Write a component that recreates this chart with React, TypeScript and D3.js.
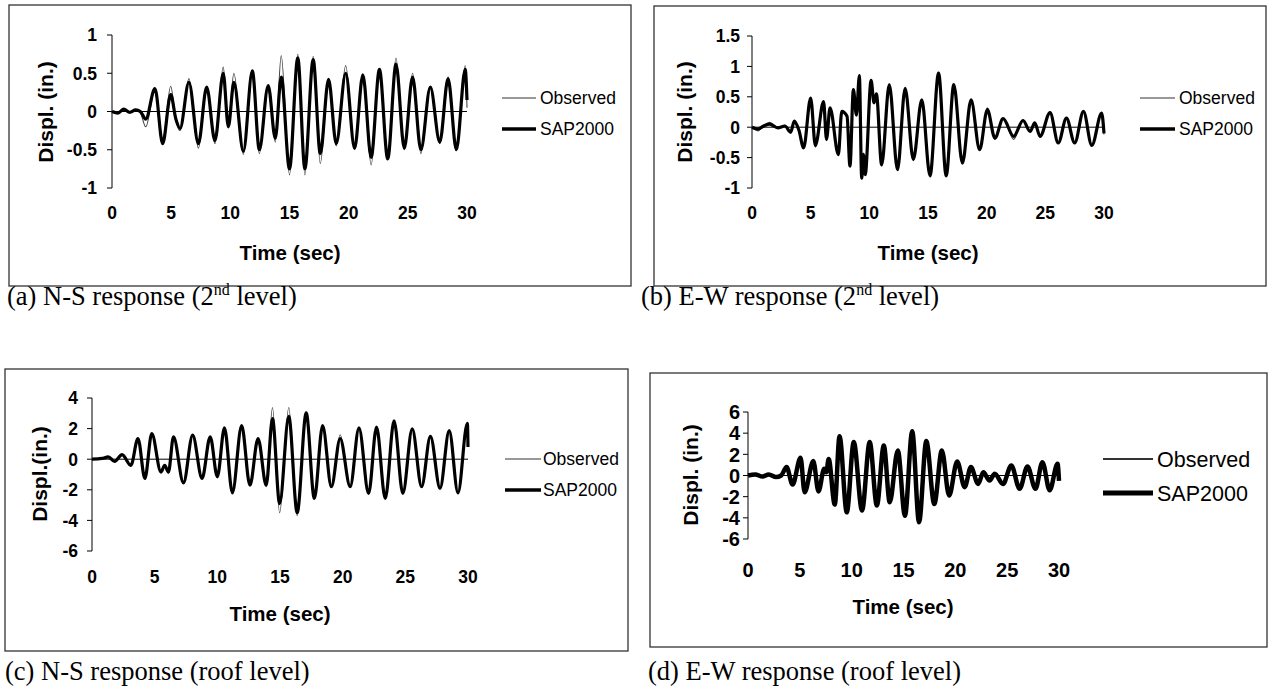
import React from "react";
import * as d3 from "d3";

// ---- Data: displacement response histories (peaks and troughs, inches vs. seconds) ----

const xTicks = [0, 5, 10, 15, 20, 25, 30];

// (a) N-S, 2nd level
const nsL2Time = [0, 0.5, 1.0, 1.5, 2.0, 2.4, 2.85, 3.63, 4.28, 4.96, 5.4, 5.75, 6.5, 7.3, 8.0, 8.7, 9.4, 9.83, 10.3, 11.1, 11.86, 12.45, 13.2, 13.8, 14.3, 15.0, 15.7, 16.3, 17.0, 17.6, 18.3, 18.95, 19.75, 20.5, 21.2, 21.9, 22.6, 23.3, 24.0, 24.7, 25.4, 26.1, 26.9, 27.7, 28.4, 29.1, 29.85, 30];
const nsL2Sap = [0, -0.02, 0.03, -0.01, 0.02, 0.0, -0.1, 0.3, -0.42, 0.22, -0.1, -0.22, 0.38, -0.42, 0.32, -0.38, 0.5, -0.2, 0.38, -0.52, 0.53, -0.5, 0.34, -0.35, 0.45, -0.75, 0.7, -0.75, 0.68, -0.55, 0.42, -0.42, 0.5, -0.48, 0.48, -0.6, 0.55, -0.62, 0.62, -0.48, 0.45, -0.5, 0.32, -0.4, 0.43, -0.5, 0.55, 0.15];
const nsL2Obs = [0, -0.02, 0.02, -0.02, 0.01, -0.02, -0.2, 0.28, -0.38, 0.33, -0.12, -0.25, 0.43, -0.48, 0.3, -0.42, 0.58, -0.15, 0.5, -0.56, 0.5, -0.55, 0.3, -0.4, 0.73, -0.83, 0.75, -0.83, 0.72, -0.68, 0.4, -0.45, 0.6, -0.5, 0.45, -0.7, 0.55, -0.6, 0.7, -0.5, 0.5, -0.55, 0.3, -0.42, 0.45, -0.5, 0.6, 0.05];
const nsL2Ticks = [-1, -0.5, 0, 0.5, 1];

// (b) E-W, 2nd level
const ewL2Time = [0, 0.5, 1.0, 1.5, 2.2, 2.8, 3.3, 3.6, 4.0, 4.4, 5.0, 5.4, 6.1, 6.35, 6.65, 7.36, 7.65, 8.1, 8.35, 8.64, 8.9, 9.15, 9.35, 9.5, 9.65, 10.15, 10.4, 10.6, 11.05, 11.7, 12.4, 13.05, 13.75, 14.47, 15.17, 15.9, 16.55, 17.2, 17.93, 18.67, 19.4, 20.06, 20.7, 21.4, 22.3, 23.1, 23.7, 24.1, 24.55, 25.4, 26.1, 26.8, 27.5, 28.25, 28.96, 29.8, 30];
const ewL2Sap = [0, -0.03, 0.02, 0.05, -0.01, 0.02, -0.08, 0.1, -0.05, -0.34, 0.48, -0.3, 0.42, -0.2, 0.32, -0.45, 0.26, 0.18, -0.64, 0.62, 0.2, 0.85, -0.84, -0.45, -0.78, 0.77, 0.4, 0.55, -0.62, 0.7, -0.7, 0.64, -0.53, 0.45, -0.8, 0.89, -0.8, 0.7, -0.59, 0.45, -0.37, 0.29, -0.18, 0.14, -0.15, 0.11, -0.07, 0.07, -0.15, 0.24, -0.26, 0.15, -0.26, 0.26, -0.3, 0.23, -0.1];
const ewL2Obs = [0, -0.06, 0.03, 0.08, 0.0, 0.03, -0.1, 0.08, -0.06, -0.3, 0.45, -0.33, 0.4, -0.22, 0.3, -0.42, 0.24, 0.2, -0.6, 0.58, 0.22, 0.8, -0.8, -0.42, -0.75, 0.74, 0.42, 0.52, -0.6, 0.68, -0.68, 0.6, -0.55, 0.42, -0.78, 0.85, -0.78, 0.68, -0.56, 0.45, -0.35, 0.32, -0.2, 0.14, -0.2, 0.12, -0.06, 0.08, -0.14, 0.22, -0.25, 0.16, -0.24, 0.25, -0.28, 0.22, -0.12];
const ewL2Ticks = [-1, -0.5, 0, 0.5, 1, 1.5];

// (c) N-S, roof level
const nsRoofTime = [0, 0.8, 1.3, 1.8, 2.4, 3.1, 3.67, 4.22, 4.77, 5.5, 5.8, 6.1, 6.5, 7.3, 8.03, 8.78, 9.43, 10.0, 10.57, 11.2, 11.94, 12.6, 13.25, 13.9, 14.4, 14.97, 15.7, 16.37, 17.09, 17.74, 18.4, 19.1, 19.8, 20.6, 21.3, 22.07, 22.7, 23.4, 24.1, 24.8, 25.55, 26.3, 27.0, 27.77, 28.5, 29.2, 29.95, 30];
const nsRoofSap = [0, 0.05, 0.15, -0.15, 0.3, -0.4, 1.35, -1.26, 1.68, -0.84, -0.4, -0.84, 1.46, -1.55, 1.57, -1.26, 1.46, -1.15, 2.05, -2.2, 2.2, -1.7, 1.35, -1.7, 2.66, -2.9, 2.8, -3.5, 3.03, -2.57, 2.2, -1.8, 1.35, -1.8, 2.05, -2.24, 2.1, -2.57, 2.5, -2.24, 1.98, -1.8, 1.5, -1.9, 1.87, -2.2, 2.35, 0.8];
const nsRoofObs = [0, 0.05, 0.12, -0.1, 0.25, -0.45, 1.2, -1.1, 1.6, -0.8, -0.5, -0.9, 1.4, -1.45, 1.5, -1.3, 1.4, -1.2, 1.9, -2.1, 2.1, -1.6, 1.3, -1.8, 3.38, -3.5, 3.38, -3.7, 2.9, -2.4, 2.1, -1.8, 1.6, -1.75, 2.0, -2.1, 2.0, -2.5, 2.4, -2.2, 1.95, -1.85, 1.4, -1.95, 1.8, -2.25, 2.3, 1.2];
const nsRoofTicks = [-6, -4, -2, 0, 2, 4];

// (d) E-W, roof level
const ewRoofTime = [0, 0.7, 1.4, 2.0, 2.7, 3.2, 3.72, 4.3, 5.07, 5.46, 6.3, 6.8, 7.35, 7.55, 7.78, 8.37, 8.83, 9.53, 10.2, 11.0, 11.74, 12.43, 13.1, 13.67, 14.45, 15.14, 15.84, 16.5, 17.2, 17.97, 18.7, 19.4, 20.18, 20.9, 21.5, 22.2, 22.7, 23.3, 23.8, 24.6, 25.4, 26.2, 26.96, 27.73, 28.4, 29.1, 29.86, 30];
const ewRoofSap = [0, 0.1, -0.1, 0.1, -0.15, 0.0, 0.8, -0.85, 1.67, -1.58, 1.36, -1.5, 0.63, 0.3, 1.55, -2.75, 3.7, -3.48, 3.16, -3.3, 3.16, -2.84, 2.84, -2.53, 2.37, -3.8, 4.17, -4.42, 3.25, -2.7, 2.37, -1.9, 1.33, -1.1, 0.8, -0.8, 0.3, -0.47, 0.16, -0.8, 0.95, -1.26, 0.85, -1.26, 1.26, -1.4, 1.1, -0.5];
const ewRoofObs = [0, 0.08, -0.12, 0.12, -0.18, 0.05, 0.75, -0.9, 1.6, -1.5, 1.3, -1.45, 0.6, 0.35, 1.5, -2.7, 3.6, -3.4, 3.1, -3.2, 3.1, -2.8, 2.8, -2.5, 2.3, -3.7, 4.05, -4.3, 3.2, -2.65, 2.3, -1.85, 1.3, -1.05, 0.75, -0.75, 0.28, -0.45, 0.18, -0.75, 0.9, -1.2, 0.8, -1.2, 1.2, -1.35, 1.05, -0.45];
const ewRoofTicks = [-6, -4, -2, 0, 2, 4, 6];

const legendLabels = ["Observed", "SAP2000"];

// ---- Layout ----

const SANS = "'Liberation Sans', Arial, sans-serif";
const SERIF = "'Liberation Serif', 'Times New Roman', serif";

type PanelCfg = {
  box: [number, number, number, number];
  xRange: [number, number];
  yDomain: [number, number];
  yRange: [number, number];
  yTicks: number[];
  time: number[];
  obs: number[];
  sap: number[];
  tickFont: number;
  tickGap: number;
  xLabelY: number;
  timeTitle: [number, number];
  yTitle: [number, number, string];
  legend: { x1: number; x2: number; tx: number; y1: number; y2: number; font: number; wObs: number; wSap: number };
  caption: { x: number; y: number; pre: string; sup?: string; post?: string };
  obsWidth: number;
  sapWidth: number;
};

const panels: PanelCfg[] = [
  {
    box: [9, 5, 622, 281],
    xRange: [112, 467],
    yDomain: [-1, 1],
    yRange: [188, 35],
    yTicks: nsL2Ticks,
    time: nsL2Time,
    obs: nsL2Obs,
    sap: nsL2Sap,
    tickFont: 17.5,
    tickGap: 15,
    xLabelY: 219,
    timeTitle: [290, 260],
    yTitle: [45, 112, "Displ. (in.)"],
    legend: { x1: 502, x2: 536, tx: 540, y1: 98, y2: 129, font: 17.5, wObs: 1, wSap: 3.5 },
    caption: { x: 7, y: 305, pre: "(a) N-S response (2", sup: "nd", post: " level)" },
    obsWidth: 1.1,
    sapWidth: 3.2,
  },
  {
    box: [654, 6, 612, 280],
    xRange: [752, 1104],
    yDomain: [-1, 1.5],
    yRange: [188, 36],
    yTicks: ewL2Ticks,
    time: ewL2Time,
    obs: ewL2Obs,
    sap: ewL2Sap,
    tickFont: 17.5,
    tickGap: 12,
    xLabelY: 219,
    timeTitle: [928, 260],
    yTitle: [684, 112, "Displ. (in.)"],
    legend: { x1: 1140, x2: 1175, tx: 1179, y1: 98, y2: 129, font: 17.5, wObs: 1, wSap: 3.5 },
    caption: { x: 641, y: 305, pre: "(b) E-W response (2", sup: "nd", post: " level)" },
    obsWidth: 1.1,
    sapWidth: 3.2,
  },
  {
    box: [5, 369, 623, 282],
    xRange: [92, 468],
    yDomain: [-6, 4],
    yRange: [551, 398],
    yTicks: nsRoofTicks,
    time: nsRoofTime,
    obs: nsRoofObs,
    sap: nsRoofSap,
    tickFont: 17.5,
    tickGap: 14,
    xLabelY: 583,
    timeTitle: [280, 621],
    yTitle: [39, 474, "Displ.(in.)"],
    legend: { x1: 505, x2: 541, tx: 543, y1: 459, y2: 490, font: 17.5, wObs: 1, wSap: 3.5 },
    caption: { x: 5, y: 680, pre: "(c) N-S response (roof level)" },
    obsWidth: 1.1,
    sapWidth: 3.2,
  },
  {
    box: [650, 373, 617, 274],
    xRange: [748, 1059],
    yDomain: [-6, 6],
    yRange: [539, 412],
    yTicks: ewRoofTicks,
    time: ewRoofTime,
    obs: ewRoofObs,
    sap: ewRoofSap,
    tickFont: 20,
    tickGap: 8,
    xLabelY: 577,
    timeTitle: [903, 614],
    yTitle: [690, 475, "Displ. (in.)"],
    legend: { x1: 1103, x2: 1153, tx: 1157, y1: 459, y2: 493, font: 21.5, wObs: 2, wSap: 5 },
    caption: { x: 648, y: 680, pre: "(d) E-W response (roof level)" },
    obsWidth: 2,
    sapWidth: 4.5,
  },
];

function Panel({ cfg }: { cfg: PanelCfg }) {
  const x = d3.scaleLinear().domain([0, 30]).range(cfg.xRange);
  const y = d3.scaleLinear().domain(cfg.yDomain).range(cfg.yRange);
  const path = (vals: number[]) =>
    d3
      .line<number>()
      .x((_, i) => x(cfg.time[i]))
      .y((v) => y(v))
      .curve(d3.curveMonotoneX)(vals) || "";
  const fmt = (v: number) => String(v);
  const [bx, by, bw, bh] = cfg.box;
  const ax = cfg.xRange[0];
  const lg = cfg.legend;
  return (
    <g>
      <rect x={bx} y={by} width={bw} height={bh} fill="none" stroke="#333" strokeWidth={1.3} />

      {/* y axis with outward ticks */}
      <line x1={ax} x2={ax} y1={cfg.yRange[0]} y2={cfg.yRange[1]} stroke="#000" strokeWidth={1} />
      {cfg.yTicks.map((t) => (
        <g key={t}>
          <line x1={ax - 5} x2={ax} y1={y(t)} y2={y(t)} stroke="#000" strokeWidth={1} />
          <text
            x={ax - cfg.tickGap}
            y={y(t)}
            dy="0.36em"
            textAnchor="end"
            fontFamily={SANS}
            fontWeight="bold"
            fontSize={cfg.tickFont}
          >
            {fmt(t)}
          </text>
        </g>
      ))}

      {/* x tick labels (axis crosses at zero) */}
      {xTicks.map((t) => (
        <text
          key={t}
          x={x(t)}
          y={cfg.xLabelY}
          textAnchor="middle"
          fontFamily={SANS}
          fontWeight="bold"
          fontSize={cfg.tickFont}
        >
          {t}
        </text>
      ))}

      {/* response histories */}
      <path d={path(cfg.obs)} fill="none" stroke="#444" strokeWidth={cfg.obsWidth} strokeLinejoin="round" />
      <path d={path(cfg.sap)} fill="none" stroke="#000" strokeWidth={cfg.sapWidth} strokeLinejoin="round" />

      {/* zero line */}
      <line x1={ax} x2={x(30)} y1={y(0)} y2={y(0)} stroke="#000" strokeWidth={1} />

      {/* axis titles */}
      <text
        x={cfg.timeTitle[0]}
        y={cfg.timeTitle[1]}
        textAnchor="middle"
        fontFamily={SANS}
        fontWeight="bold"
        fontSize={20.5}
      >
        Time (sec)
      </text>
      <text
        transform={`translate(${cfg.yTitle[0]},${cfg.yTitle[1]}) rotate(-90)`}
        dy="0.36em"
        textAnchor="middle"
        fontFamily={SANS}
        fontWeight="bold"
        fontSize={21}
      >
        {cfg.yTitle[2]}
      </text>

      {/* legend */}
      <line x1={lg.x1} x2={lg.x2} y1={lg.y1} y2={lg.y1} stroke="#333" strokeWidth={lg.wObs} />
      <text x={lg.tx} y={lg.y1} dy="0.36em" fontFamily={SANS} fontSize={lg.font}>
        {legendLabels[0]}
      </text>
      <line x1={lg.x1} x2={lg.x2} y1={lg.y2} y2={lg.y2} stroke="#000" strokeWidth={lg.wSap} />
      <text x={lg.tx} y={lg.y2} dy="0.36em" fontFamily={SANS} fontSize={lg.font}>
        {legendLabels[1]}
      </text>

      {/* caption */}
      <text x={cfg.caption.x} y={cfg.caption.y} fontFamily={SERIF} fontSize={26.5}>
        <tspan>{cfg.caption.pre}</tspan>
        {cfg.caption.sup && (
          <tspan dy={-10} fontSize={16}>
            {cfg.caption.sup}
          </tspan>
        )}
        {cfg.caption.post && <tspan dy={cfg.caption.sup ? 10 : 0}>{cfg.caption.post}</tspan>}
      </text>
    </g>
  );
}

export default function App() {
  return (
    <svg
      width={1269}
      height={689}
      viewBox="0 0 1269 689"
      style={{ position: "absolute", left: 0, top: 0, background: "#fff" }}
    >
      <rect x={0} y={0} width={1269} height={689} fill="#fff" />
      {panels.map((p, i) => (
        <Panel key={i} cfg={p} />
      ))}
    </svg>
  );
}
